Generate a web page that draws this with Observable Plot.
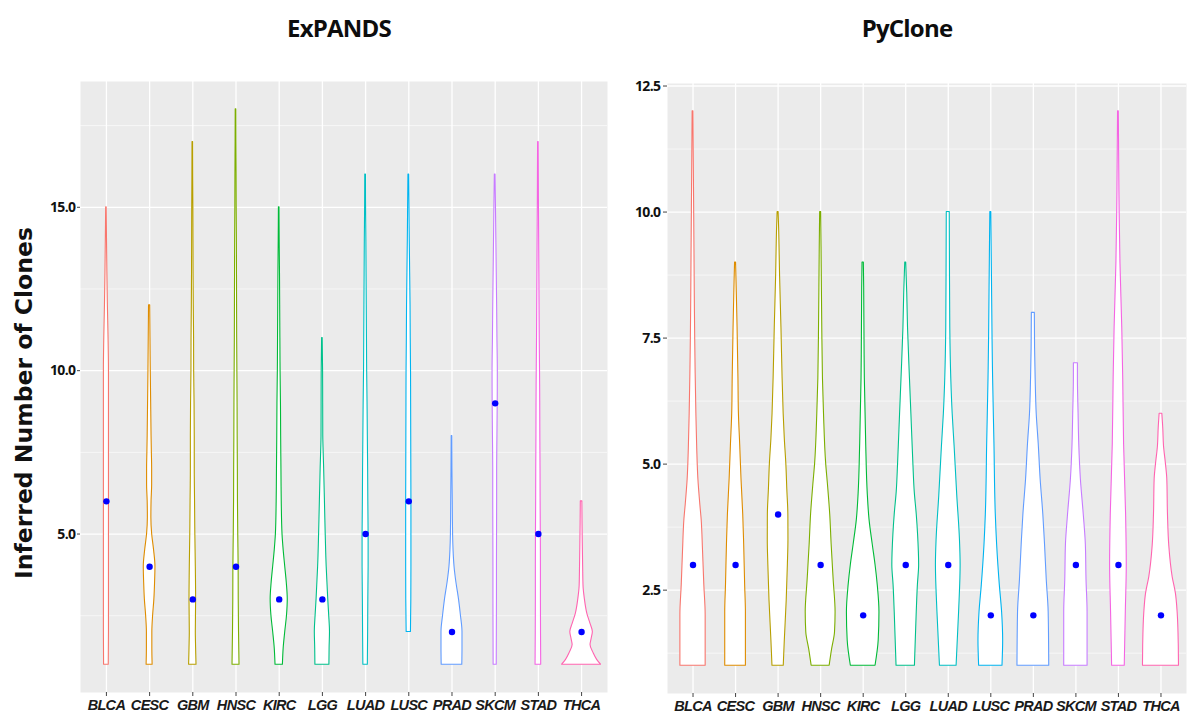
<!DOCTYPE html>
<html>
<head>
<meta charset="utf-8">
<script src="https://cdn.jsdelivr.net/npm/d3@7"></script>
<script src="https://cdn.jsdelivr.net/npm/@observablehq/plot@0.6"></script>
<style>
  body { margin: 0; background: #fff; width: 1187px; height: 715px; position: relative; overflow: hidden; font-family: "Open Sans", sans-serif; }
  .title { position: absolute; top: 11px; transform: translateX(-50%); font: 700 24px "Open Sans", sans-serif; letter-spacing: -0.8px; color: #0d0d0d; white-space: nowrap; }
  #ylab { position: absolute; left: 24px; top: 403px; transform: translate(-50%, -50%) rotate(-90deg); font: 700 23.5px "DejaVu Sans", sans-serif; color: #111; white-space: nowrap; }
  .panel { position: absolute; top: 0; }
  .panel g[aria-label="x-axis tick label"] text { font: italic 700 14.5px "Liberation Sans", Arial, sans-serif; letter-spacing: -0.7px; fill: #1a1a1a; }
  .panel g[aria-label="y-axis tick label"] text { font: 700 14px "Open Sans", sans-serif; fill: #111; letter-spacing: -0.6px; }
</style>
</head>
<body>
<div class="title" style="left:339px">ExPANDS</div>
<div class="title" style="left:907px">PyClone</div>
<div id="ylab">Inferred Number of Clones</div>
<div id="left" class="panel" style="left:0px"></div>
<div id="right" class="panel" style="left:615px"></div>
<script>
// Cancer types (x categories), shared by both panels
const categories = ["BLCA", "CESC", "GBM", "HNSC", "KIRC", "LGG", "LUAD", "LUSC", "PRAD", "SKCM", "STAD", "THCA"];

// Median number of clones per cancer type
const expandsMedian = [6, 4, 3, 4, 3, 3, 5, 6, 2, 9, 5, 2];
const pycloneMedian = [3, 3, 4, 3, 2, 3, 3, 2, 2, 3, 3, 2];

// Violin profiles: [number of clones, relative density] for each cancer type (1 = widest violin)
const expandsDensity = [
  [[1,.12],[2,.13],[4,.13],[6,.13],[8,.13],[10,.13],[11,.11],[12,.075],[13,.05],[14,.03],[15,.013]],
  [[1,.155],[1.5,.14],[2,.14],[2.5,.18],[3,.245],[3.5,.28],[4,.30],[4.5,.23],[5,.13],[5.5,.09],[6,.10],[6.5,.13],[7,.13],[7.5,.115],[8,.10],[9,.08],[10,.06],[11,.045],[12,.03]],
  [[1,.19],[1.5,.17],[2,.155],[3,.17],[4,.155],[5,.13],[6,.115],[7,.10],[8,.10],[9,.09],[10,.07],[11,.065],[12,.05],[13,.04],[14,.035],[15,.03],[16,.02],[17,.015]],
  [[1,.18],[2,.155],[3,.14],[4,.135],[5,.115],[6,.10],[7,.095],[8,.085],[9,.08],[10,.07],[11,.06],[12,.055],[13,.05],[14,.045],[15,.035],[16,.03],[17,.02],[18,.015]],
  [[1,.19],[1.5,.23],[2,.31],[2.5,.40],[3,.44],[3.5,.39],[4,.31],[4.5,.23],[5,.17],[6,.13],[7,.115],[8,.10],[9,.09],[10,.07],[11,.06],[12,.05],[13,.04],[14,.025],[15,.015]],
  [[1,.36],[1.5,.37],[2,.39],[2.5,.35],[3,.30],[3.5,.26],[4,.22],[5,.17],[6,.13],[7,.09],[7.5,.065],[8,.045],[9,.04],[10,.035],[11,.015]],
  [[1,.115],[2,.13],[3,.14],[4,.155],[5,.155],[6,.14],[7,.13],[8,.115],[9,.10],[10,.08],[11,.07],[12,.06],[13,.05],[14,.04],[15,.025],[16,.018]],
  [[2,.11],[3,.13],[4,.135],[5,.135],[6,.135],[7,.13],[8,.125],[9,.12],[10,.115],[11,.10],[12,.09],[13,.07],[14,.05],[15,.035],[16,.018]],
  [[1,.53],[1.5,.54],[2,.54],[2.5,.46],[3,.36],[3.5,.23],[4,.13],[4.5,.08],[5,.055],[6,.04],[7,.025],[8,.015]],
  [[1,.08],[2,.085],[3,.09],[4,.09],[5,.095],[6,.10],[7,.10],[8,.115],[9,.13],[10,.135],[11,.115],[12,.10],[13,.08],[14,.06],[15,.04],[16,.018]],
  [[1,.145],[2,.135],[3,.13],[4,.13],[5,.125],[6,.115],[7,.11],[8,.10],[9,.095],[10,.085],[11,.07],[12,.06],[13,.05],[14,.04],[15,.03],[16,.023],[17,.015]],
  [[1,1.0],[1.15,.80],[1.35,.62],[1.6,.46],[1.8,.52],[2,.58],[2.25,.46],[2.55,.30],[3,.17],[3.4,.10],[4,.08],[4.6,.065],[5.3,.05],[6,.04]]
];
const pycloneDensity = [
  [[1,.66],[2,.66],[2.6,.59],[3.3,.52],[3.9,.45],[4.2,.38],[4.7,.28],[5.3,.22],[6,.175],[7,.13],[8,.10],[9,.08],[10,.06],[11,.04],[12,.02]],
  [[1,.54],[2.06,.54],[2.6,.50],[3.4,.45],[4,.40],[4.7,.31],[5.4,.24],[6,.175],[6.7,.15],[7.7,.105],[8.4,.065],[9,.026]],
  [[1,.295],[1.5,.35],[2.3,.45],[3,.51],[3.5,.54],[4,.535],[4.5,.48],[5,.43],[5.5,.35],[6,.29],[6.7,.235],[7.7,.175],[8.7,.105],[9.7,.052],[10,.026]],
  [[1,.47],[1.33,.60],[1.66,.75],[2.06,.78],[2.7,.68],[3.4,.575],[4,.50],[4.6,.38],[5,.29],[6,.175],[6.7,.12],[7.5,.09],[8.5,.065],[9.3,.047],[10,.026]],
  [[1,.645],[1.5,.81],[2.06,.85],[2.6,.76],[3,.645],[3.4,.50],[3.9,.33],[4.4,.24],[5.4,.157],[6.7,.086],[7.7,.065],[8.5,.052],[9,.034]],
  [[1,.48],[2.06,.575],[2.6,.635],[3,.70],[3.6,.645],[4,.575],[4.45,.47],[5,.40],[6,.295],[6.7,.22],[7.7,.12],[8.4,.078],[9,.026]],
  [[1,.435],[2.06,.565],[3,.645],[3.5,.61],[4.37,.47],[5.36,.33],[6,.23],[6.7,.157],[7.7,.105],[8.7,.09],[10,.078]],
  [[1,.61],[1.5,.645],[2.06,.59],[2.6,.47],[3.4,.33],[4,.26],[5.4,.19],[6.7,.12],[7.5,.09],[8.5,.065],[10,.026]],
  [[1,.83],[2.06,.80],[2.7,.70],[3.4,.61],[4,.52],[4.7,.38],[5.4,.28],[6,.175],[6.7,.12],[7.3,.09],[8,.078]],
  [[1,.61],[2.06,.61],[2.7,.555],[3.4,.52],[4,.41],[4.7,.26],[5.4,.175],[6,.14],[6.7,.105],[7,.105]],
  [[1,.33],[2.06,.385],[3,.435],[4,.40],[5.4,.295],[6.7,.25],[7.7,.20],[9,.105],[10.4,.052],[12,.02]],
  [[1,.94],[1.4,.93],[2.06,.87],[2.43,.78],[2.76,.61],[3.37,.435],[4,.365],[4.7,.33],[5,.26],[5.36,.157],[5.7,.12],[6,.07]]
];

// y axis: value ranges and tick positions for each panel
const expandsYDomain = [0.15, 18.85];
const expandsYTicks = [5, 10, 15];
const expandsYMinor = [2.5, 7.5, 12.5, 17.5];
const pycloneYDomain = [0.45, 12.55];
const pycloneYTicks = [2.5, 5, 7.5, 10, 12.5];
const pycloneYMinor = [1.25, 3.75, 6.25, 8.75, 11.25];

// default ggplot2 hue palette for 12 groups
const hues = ["#F8766D", "#DE8C00", "#B79F00", "#7CAE00", "#00BA38", "#00C08B",
              "#00BFC4", "#00B4F0", "#619CFF", "#C77CFF", "#F564E3", "#FF64B0"];

function violinPanel({density, median, yDomain, yTicks, yMinor, width, margin, yTickSize, yTickPadding}) {
  const positions = d3.range(1, categories.length + 1);
  const rows = density.flatMap((profile, i) =>
    profile.map(([v, d]) => ({cat: categories[i], pos: i + 1, v, d})));
  const medians = median.map((v, i) => ({cat: categories[i], pos: i + 1, v}));
  const halfMax = 0.45; // violins at most 90% of a category slot
  return Plot.plot({
    width,
    height: 715,
    marginLeft: margin[0], marginRight: margin[1], marginTop: margin[2], marginBottom: margin[3],
    style: {background: "transparent", overflow: "visible"},
    x: {type: "linear", domain: [0.4, categories.length + 0.6], label: null, axis: null},
    y: {domain: yDomain, label: null, axis: null},
    color: {domain: categories, range: hues},
    marks: [
      Plot.frame({fill: "#EBEBEB", stroke: "none"}),
      Plot.ruleY(yMinor, {stroke: "#fff", strokeWidth: 0.6}),
      Plot.ruleY(yTicks, {stroke: "#fff", strokeWidth: 1.3}),
      Plot.ruleX(positions, {stroke: "#fff", strokeWidth: 1.3}),
      Plot.areaX(rows, {
        y: "v",
        x1: d => d.pos - halfMax * d.d,
        x2: d => d.pos + halfMax * d.d,
        z: "cat",
        fill: "white",
        stroke: "cat",
        strokeWidth: 1.1,
        curve: "monotone-y"
      }),
      Plot.dot(medians, {x: "pos", y: "v", r: 3.2, fill: "#0000FF", stroke: "none"}),
      Plot.axisX(positions, {
        tickFormat: i => categories[i - 1],
        tickSize: 4, tickPadding: 3, stroke: "#444", label: null
      }),
      Plot.axisY(yTicks, {
        tickFormat: d3.format(".1f"),
        tickSize: yTickSize, tickPadding: yTickPadding, stroke: "#444", label: null
      })
    ]
  });
}

document.getElementById("left").append(violinPanel({
  density: expandsDensity, median: expandsMedian,
  yDomain: expandsYDomain, yTicks: expandsYTicks, yMinor: expandsYMinor,
  width: 615, margin: [80, 8, 81, 23], yTickSize: 3, yTickPadding: 2
}));
document.getElementById("right").append(violinPanel({
  density: pycloneDensity, median: pycloneMedian,
  yDomain: pycloneYDomain, yTicks: pycloneYTicks, yMinor: pycloneYMinor,
  width: 572, margin: [52, 1, 83, 22], yTickSize: 4, yTickPadding: 3
}));
</script>
</body>
</html>
